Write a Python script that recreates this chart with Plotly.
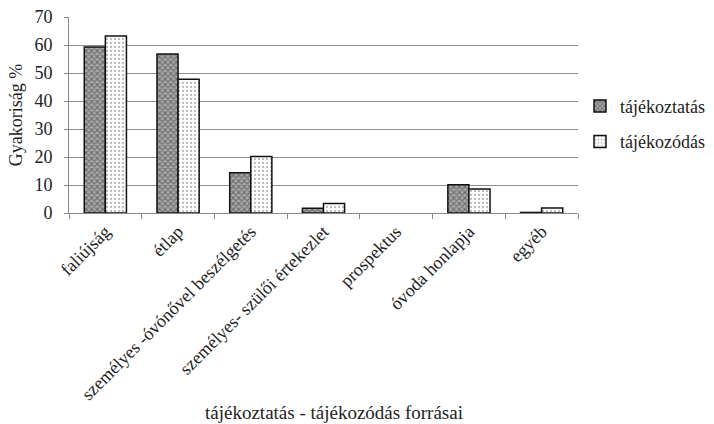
import plotly.graph_objects as go

categories = [
    "faliújság",
    "étlap",
    "személyes -óvónővel beszélgetés",
    "személyes- szülői értekezlet",
    "prospektus",
    "óvoda honlapja",
    "egyéb",
]
# prospektus has no recorded answers in either series
tajekoztatas = [59.3, 56.8, 14.4, 1.7, None, 10.1, 0.2]
tajekozodas = [63.2, 47.8, 20.2, 3.4, None, 8.6, 1.8]
y_ticks = [0, 10, 20, 30, 40, 50, 60, 70]

FONT = "Times New Roman, Liberation Serif, serif"
TEXT = "#222222"

fig = go.Figure()
fig.add_trace(go.Bar(
    name="tájékoztatás",
    x=categories,
    y=tajekoztatas,
    legendgroup="a",
    marker=dict(
        color="#9a9a9a",
        line=dict(color="#111111", width=1.5),
        pattern=dict(shape="x", fgcolor="#333333", bgcolor="#aaaaaa",
                     size=4, solidity=0.5),
    ),
))
fig.add_trace(go.Bar(
    name="tájékozódás",
    x=categories,
    y=tajekozodas,
    legendgroup="b",
    marker=dict(
        color="white",
        line=dict(color="#111111", width=1.5),
        pattern=dict(shape=".", fgcolor="#777777", bgcolor="white",
                     size=4, solidity=0.25),
    ),
))

fig.update_layout(
    width=714,
    height=424,
    margin=dict(l=69, r=136, t=17, b=211, autoexpand=False),
    paper_bgcolor="white",
    plot_bgcolor="white",
    font=dict(family=FONT, size=17, color=TEXT),
    barmode="group",
    bargap=0.42,
    bargroupgap=0,
    legend=dict(
        x=1.0 + 2 / 509, y=0.455, xanchor="left", yanchor="middle",
        font=dict(family=FONT, size=18, color=TEXT),
        tracegroupgap=9,
        itemwidth=30,
        bgcolor="rgba(0,0,0,0)",
    ),
    xaxis=dict(
        type="category",
        tickangle=-45,
        tickson="boundaries",
        ticks="outside",
        ticklen=5,
        tickcolor="#888888",
        showline=True,
        linecolor="#888888",
        linewidth=1,
        showgrid=False,
        tickfont=dict(family=FONT, size=18, color=TEXT),
    ),
    yaxis=dict(
        range=[0, 70],
        tickvals=y_ticks,
        ticks="outside",
        ticklen=4,
        tickcolor="#888888",
        showline=True,
        linecolor="#888888",
        linewidth=1,
        showgrid=True,
        gridcolor="#8f8f8f",
        gridwidth=1,
        zeroline=False,
        ticklabelstandoff=8,
        tickfont=dict(family=FONT, size=18, color=TEXT),
        title=dict(text="Gyakoriság %", font=dict(family=FONT, size=18, color=TEXT),
                   standoff=7),
    ),
    annotations=[
        dict(
            text="tájékoztatás - tájékozódás forrásai",
            xref="paper", yref="paper",
            x=0.52, y=0, yshift=-199,
            xanchor="center", yanchor="middle",
            showarrow=False,
            font=dict(family=FONT, size=19, color=TEXT),
        )
    ],
)

fig.write_html("out.html")
